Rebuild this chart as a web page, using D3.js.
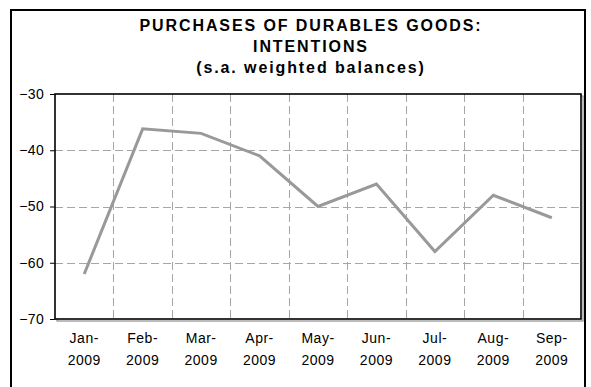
<!DOCTYPE html>
<html>
<head>
<meta charset="utf-8">
<script src="https://cdn.jsdelivr.net/npm/d3@7"></script>
<style>
  html, body { margin: 0; padding: 0; background: #fff; }
  svg { display: block; font-family: "Liberation Sans", Arial, sans-serif; }
</style>
</head>
<body>
<svg id="chart" width="591" height="387"></svg>
<script>
// Survey series: households' intentions to buy durable goods
const months = ["Jan-", "Feb-", "Mar-", "Apr-", "May-", "Jun-", "Jul-", "Aug-", "Sep-"];
const years = ["2009", "2009", "2009", "2009", "2009", "2009", "2009", "2009", "2009"];
const balances = [-62, -36.2, -37, -41, -50, -46, -58, -48, -52];
const yTicks = [-70, -60, -50, -40, -30];
const titleLines = ["PURCHASES OF DURABLES GOODS:", "INTENTIONS", "(s.a. weighted balances)"];

const svg = d3.select("#chart");
const plot = { left: 55, right: 581, top: 94, bottom: 319 };

// Outer frame
svg.append("rect")
  .attr("x", 11).attr("y", 10)
  .attr("width", 574).attr("height", 390)
  .attr("fill", "#fff").attr("stroke", "#000").attr("stroke-width", 2);

// Title
svg.append("g").selectAll("text")
  .data(titleLines).join("text")
  .attr("x", 311)
  .attr("y", (d, i) => 31 + i * 21.2)
  .attr("text-anchor", "middle")
  .attr("font-weight", "bold")
  .attr("font-size", 16)
  .attr("letter-spacing", 1.9)
  .attr("fill", "#000")
  .text(d => d);

const x = d3.scaleBand().domain(d3.range(months.length)).range([plot.left, plot.right]);
const y = d3.scaleLinear().domain([-70, -30]).range([plot.bottom, plot.top]);

// Plot shadow (right/bottom)
svg.append("rect")
  .attr("x", plot.left + 2).attr("y", plot.top + 2)
  .attr("width", plot.right - plot.left).attr("height", plot.bottom - plot.top)
  .attr("fill", "none").attr("stroke", "#777").attr("stroke-width", 1);

svg.append("rect")
  .attr("x", plot.left).attr("y", plot.top)
  .attr("width", plot.right - plot.left).attr("height", plot.bottom - plot.top)
  .attr("fill", "#fff");

// Horizontal gridlines
svg.append("g").selectAll("line")
  .data(yTicks.filter(v => v > -70 && v < -30)).join("line")
  .attr("x1", plot.left).attr("x2", plot.right)
  .attr("y1", d => Math.round(y(d)) + 0.5).attr("y2", d => Math.round(y(d)) + 0.5)
  .attr("stroke", "#a6a6a6").attr("stroke-width", 1)
  .attr("stroke-dasharray", "8,4");

// Vertical gridlines at category boundaries
svg.append("g").selectAll("line")
  .data(d3.range(1, months.length)).join("line")
  .attr("x1", d => Math.round(x(d)) + 0.5).attr("x2", d => Math.round(x(d)) + 0.5)
  .attr("y1", plot.top).attr("y2", plot.bottom)
  .attr("stroke", "#a6a6a6").attr("stroke-width", 1)
  .attr("stroke-dasharray", "8,4");

// Plot border
svg.append("rect")
  .attr("x", plot.left).attr("y", plot.top)
  .attr("width", plot.right - plot.left).attr("height", plot.bottom - plot.top)
  .attr("fill", "none").attr("stroke", "#000").attr("stroke-width", 1.6);

// Y axis
const yAxis = d3.axisLeft(y).tickValues(yTicks).tickSize(5).tickPadding(6).tickFormat(d3.format("d"));
const gy = svg.append("g").attr("transform", `translate(${plot.left},0)`).call(yAxis);
gy.select(".domain").remove();
gy.selectAll(".tick line").attr("stroke", "#000");
gy.selectAll(".tick text")
  .attr("font-size", 14).attr("font-family", "Liberation Sans, Arial, sans-serif")
  .attr("fill", "#000").attr("letter-spacing", 0.3);

// X axis labels (two lines)
const cx = i => x(i) + x.bandwidth() / 2;
const xl = svg.append("g").selectAll("text")
  .data(months).join("text")
  .attr("x", (d, i) => cx(i))
  .attr("y", 343)
  .attr("text-anchor", "middle")
  .attr("font-size", 14)
  .attr("letter-spacing", 0.5)
  .attr("fill", "#000");
xl.append("tspan").attr("x", (d, i) => cx(i)).text(d => d);
xl.append("tspan").attr("x", (d, i) => cx(i)).attr("dy", 22).text((d, i) => years[i]);

// Series line
const line = d3.line()
  .x((d, i) => cx(i))
  .y(d => y(d));
svg.append("path")
  .datum(balances)
  .attr("d", line)
  .attr("fill", "none")
  .attr("stroke", "#999999")
  .attr("stroke-width", 3)
  .attr("stroke-linejoin", "miter");
</script>
</body>
</html>
